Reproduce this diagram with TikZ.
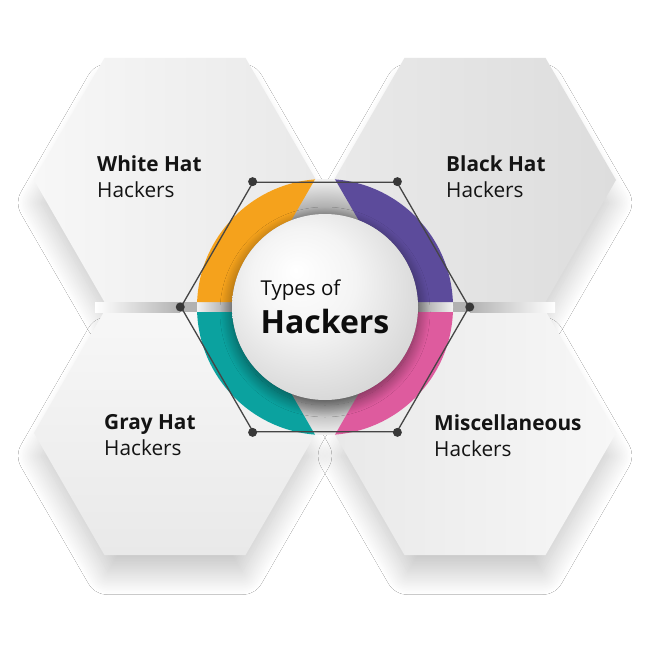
\documentclass[tikz,border=0pt]{standalone}
\usepackage{fontspec}
\setmainfont{Open Sans}
\usetikzlibrary{shapes.geometric,shadows.blur,positioning}

\definecolor{hatorange}{HTML}{F5A21C}
\definecolor{hatpurple}{HTML}{5C4B9B}
\definecolor{hatteal}{HTML}{0BA29F}
\definecolor{hatpink}{HTML}{DE5B9E}
\definecolor{hexlight}{HTML}{F7F7F7}
\definecolor{hexmid}{HTML}{E9E9E9}
\definecolor{hexdark}{HTML}{DDDDDD}
\definecolor{barshade}{HTML}{B2B2B2}
\definecolor{ringdark}{HTML}{9C9C9C}
\definecolor{ringlight}{HTML}{F2F2F2}
\definecolor{corelight}{HTML}{F4F4F4}
\definecolor{coredark}{HTML}{D4D4D4}
\definecolor{framegray}{HTML}{454545}
\definecolor{dotgray}{HTML}{383838}

\pgfdeclareradialshading{ringbase}{\pgfpoint{0bp}{0bp}}{color(0bp)=(ringdark); color(18bp)=(ringdark); color(25bp)=(ringlight); color(50bp)=(ringlight)}
\pgfdeclareradialshading{coreshade}{\pgfpoint{-8bp}{10bp}}{color(0bp)=(white); color(14bp)=(corelight); color(32bp)=(coredark); color(50bp)=(coredark)}

\tikzset{
  hexbox/.style={regular polygon, regular polygon sides=6, minimum size=282pt,
    inner sep=0pt, outer sep=0pt,
    blur shadow={shadow xshift=0pt, shadow yshift=-24pt, shadow scale=0.95,
      shadow blur radius=24pt, shadow blur steps=40, shadow opacity=24}},
  hatlabel/.style={anchor=north west, align=left, inner sep=0pt, text=black!92,
    font=\fontsize{20.8}{26}\selectfont},
  hexframe/.style={regular polygon, regular polygon sides=6, minimum size=288pt,
    inner sep=0pt, draw=framegray, line width=1.3pt},
  cornerdot/.style={circle, fill=dotgray, inner sep=0pt, minimum size=9pt},
  coredisc/.style={circle, minimum size=186pt, inner sep=0pt, shading=coreshade,
    align=left, text=black!95, font=\fontsize{20.5}{38}\selectfont,
    blur shadow={shadow xshift=0pt, shadow yshift=-5pt, shadow blur radius=12pt,
      shadow blur steps=30, shadow opacity=50}}
}

\begin{document}
\begin{tikzpicture}[x=1pt, y=-1pt]
\useasboundingbox (0,0) rectangle (650,650);
\fill[white] (0,0) rectangle (650,650);

% the four hexagons
\node[hexbox, left color=hexlight, right color=hexmid] (whitehex) at (175,180) {};
\node[hexbox, left color=hexmid, right color=hexdark] (blackhex) at (475,180) {};
\node[hexbox, top color=hexlight, bottom color=hexmid] (grayhex) at (175,433) {};
\node[hexbox, left color=hexmid, right color=hexlight] (mischex) at (475,433) {};

% shadow strip between the rows
\shade[left color=white, right color=barshade] (95,302) rectangle (180,312);
\fill[barshade] (180,302) rectangle (470,312);
\shade[left color=barshade, right color=white] (470,302) rectangle (555,312);

% ring
\shade[shading=ringbase] (325,307) circle (128pt);
\begin{scope}[shift={(325,307)}]
\foreach \sx/\sy/\col in {1/1/hatorange, -1/1/hatpurple, 1/-1/hatteal, -1/-1/hatpink}{
  \begin{scope}[xscale=\sx, yscale=\sy]
    \clip (-175,-5) -- (-175,-157) -- (7,-157) -- (-81,-5) -- cycle;
    \fill[\col, even odd rule] (0,0) circle (128pt) (0,0) circle (93pt);
  \end{scope}
}
\end{scope}

% outline with dots
\node[hexframe] (frame) at (325,307) {};
\foreach \k in {1,...,6}
  \node[cornerdot] (dot\k) at (frame.corner \k) {};

% centre
\node[coredisc] (core) at (325,307) {Types of\\{\fontsize{32}{32}\selectfont\bfseries Hackers}};

% labels
\node[hatlabel] (whitelab) at (97,155) {\textbf{White Hat}\\Hackers};
\node[hatlabel] (blacklab) at (446,155) {\textbf{Black Hat}\\Hackers};
\node[hatlabel] (graylab) at (104,414) {\textbf{Gray Hat}\\Hackers};
\node[hatlabel] (misclab) at (434,414) {\textbf{Miscellaneous}\\Hackers};
\end{tikzpicture}
\end{document}
